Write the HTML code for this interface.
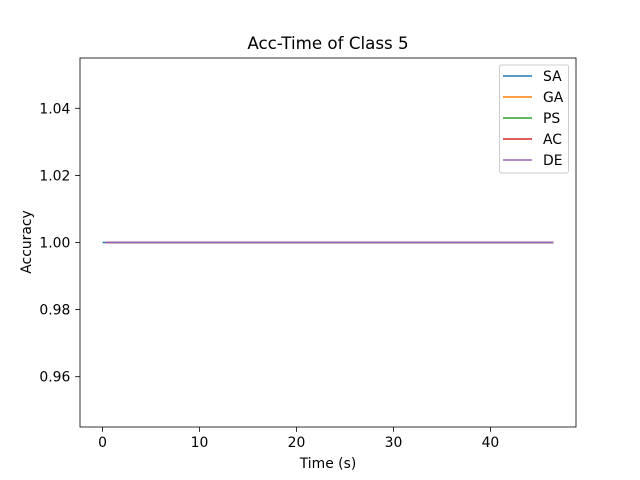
<!DOCTYPE html>
<html><head><meta charset="utf-8"><style>body{margin:0;background:#fff}svg{display:block;font-family:"DejaVu Sans","Liberation Sans",sans-serif}</style></head>
<body>
<svg id="chart" width="640" height="480">
<rect width="640" height="480" fill="#fff"/>
<text x="328" y="49" font-size="16.7" text-anchor="middle">Acc-Time of Class 5</text>
<g id="plot"></g>
<rect x="80" y="58" width="496" height="369" fill="none" stroke="#000" stroke-width="0.8"/>
<text x="328" y="468" font-size="13.9" text-anchor="middle">Time (s)</text>
<text transform="translate(31,242) rotate(-90)" font-size="13.9" text-anchor="middle">Accuracy</text>
<g id="legend"></g>
</svg>
<script>
const seriesNames=["SA","GA","PS","AC","DE"];
const colors=["#1f77b4","#ff7f0e","#2ca02c","#d62728","#9467bd"];
const seriesTimes=[[0,46.5],[0.3,46.5],[0.3,46.5],[0.3,46.5],[0.3,46.5]];
const seriesAcc=[[1,1],[1,1],[1,1],[1,1],[1,1]];
const xTicks=[0,10,20,30,40];
const yTicks=[0.96,0.98,1.00,1.02,1.04];
const X0=80,X1=576,Y0=58,Y1=427,xmin=-2.325,xmax=48.825,ymin=0.945,ymax=1.055;
const sx=v=>X0+(v-xmin)/(xmax-xmin)*(X1-X0);
const sy=v=>Y1-(v-ymin)/(ymax-ymin)*(Y1-Y0);
const NS="http://www.w3.org/2000/svg";
const plot=document.getElementById('plot');
function mk(t,a,p){const e=document.createElementNS(NS,t);for(const k in a)e.setAttribute(k,a[k]);(p||plot).appendChild(e);return e;}
xTicks.forEach(t=>{const x=sx(t);
const l=mk('line',{x1:x,x2:x,y1:Y1,y2:Y1+4.9,stroke:'#000','stroke-width':0.8});


const tx=mk('text',{x:x,y:Y1+20,'font-size':13.9,'text-anchor':'middle'});tx.textContent=t;

});
yTicks.forEach(t=>{const y=sy(t);
const l=mk('line',{x1:X0-4.9,x2:X0,y1:y,y2:y,stroke:'#000','stroke-width':0.8});


const tx=mk('text',{x:X0-9.7,y:y+5,'font-size':13.9,'text-anchor':'end'});tx.textContent=t.toFixed(2);

});
seriesNames.forEach((n,i)=>{
const pts=seriesTimes[i].map((t,j)=>sx(t)+','+sy(seriesAcc[i][j])).join(' ');
const pl=mk('polyline',{points:pts,fill:'none',stroke:colors[i],'stroke-width':1.5});

});
const lg=document.getElementById('legend');
const box=mk('rect',{x:499.5,y:65,width:69,height:108,fill:'#fff',stroke:'#ccc',rx:2},lg);


seriesNames.forEach((n,i)=>{const y=76+i*21;
const l=mk('line',{x1:503,x2:532,y1:y,y2:y,stroke:colors[i],'stroke-width':1.5},lg);


const t=mk('text',{x:543,y:y+5,'font-size':13.9},lg);t.textContent=n;

});
</script>
</body></html>
